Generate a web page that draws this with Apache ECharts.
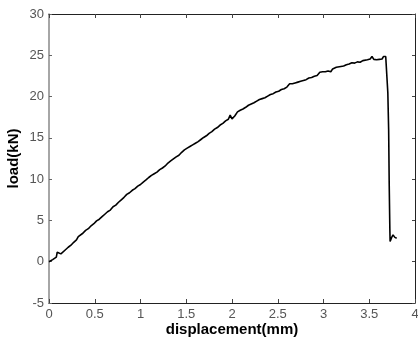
<!DOCTYPE html>
<html><head><meta charset="utf-8">
<script src="https://cdn.jsdelivr.net/npm/echarts@6/dist/echarts.min.js"></script>
<style>html,body{margin:0;padding:0;background:#fff}#c{width:418px;height:340px}</style>
</head><body><div id="c"></div>
<script>
var xTitle = 'displacement(mm)';
var yTitle = 'load(kN)';
var displacement = [0.00,0.02,0.04,0.06,0.08,0.09,0.11,0.13,0.15,0.18,0.21,0.24,0.27,0.30,0.32,0.34,0.37,0.40,0.43,0.46,0.49,0.52,0.55,0.58,0.61,0.64,0.67,0.70,0.73,0.76,0.79,0.82,0.85,0.88,0.91,0.94,0.97,1.00,1.03,1.06,1.09,1.12,1.15,1.18,1.21,1.24,1.27,1.30,1.33,1.36,1.39,1.42,1.45,1.48,1.51,1.54,1.57,1.60,1.63,1.66,1.69,1.72,1.75,1.78,1.81,1.84,1.87,1.90,1.93,1.96,1.98,2.00,2.03,2.06,2.09,2.12,2.15,2.18,2.21,2.24,2.27,2.30,2.33,2.36,2.39,2.42,2.45,2.48,2.51,2.54,2.57,2.60,2.63,2.66,2.69,2.72,2.75,2.78,2.81,2.84,2.87,2.90,2.93,2.96,2.99,3.02,3.05,3.08,3.10,3.12,3.14,3.16,3.19,3.22,3.25,3.28,3.31,3.34,3.37,3.40,3.43,3.45,3.48,3.51,3.53,3.55,3.58,3.61,3.64,3.655,3.68,3.70,3.703,3.712,3.718,3.725,3.728,3.745,3.76,3.78,3.80];
var load = [0.00,0.05,0.25,0.40,0.55,1.15,1.00,0.95,1.15,1.45,1.75,2.00,2.35,2.65,3.05,3.00,3.45,3.80,4.00,4.35,4.60,4.95,5.15,5.45,5.75,6.05,6.25,6.65,6.85,7.20,7.50,7.80,8.15,8.35,8.65,8.85,9.15,9.35,9.65,9.90,10.20,10.45,10.65,10.85,11.15,11.35,11.60,11.95,12.20,12.45,12.70,12.90,13.25,13.55,13.75,13.95,14.15,14.35,14.55,14.80,15.05,15.25,15.55,15.75,16.05,16.25,16.55,16.75,17.05,17.25,17.75,17.30,17.65,18.15,18.35,18.50,18.70,18.95,19.10,19.25,19.45,19.65,19.75,19.85,20.05,20.25,20.35,20.55,20.65,20.85,20.95,21.15,21.55,21.55,21.65,21.75,21.85,21.95,22.05,22.25,22.30,22.45,22.55,22.95,23.00,23.00,23.10,23.00,23.35,23.15,23.55,23.35,23.65,23.70,23.85,23.95,24.10,24.05,24.20,24.15,24.35,24.20,24.45,24.55,24.85,24.50,24.45,24.50,24.55,24.85,24.85,24.75,20.5,16.0,9.5,4.0,2.45,2.95,3.25,2.95,2.85];
var xTicks = [0, 4, 0.5];
var yTicks = [-5, 30, 5];

var pts = displacement.map(function (x, i) { return [x, load[i]]; });
var font = 'Liberation Sans, Arial, sans-serif';
var chart = echarts.init(document.getElementById('c'), null, {renderer: 'canvas'});
chart.setOption({
  animation: false,
  backgroundColor: '#fff',
  grid: {left: 49, right: 3, top: 14, bottom: 37, containLabel: false, outerBoundsMode: 'none'},
  xAxis: [{
    type: 'value', min: xTicks[0], max: xTicks[1], interval: xTicks[2], position: 'bottom',
    name: xTitle, nameLocation: 'middle', nameGap: 19, nameMoveOverlap: false,
    nameTextStyle: {fontFamily: font, fontSize: 15, fontWeight: 'bold', color: '#000'},
    axisLine: {show: true, onZero: false, lineStyle: {color: '#222', width: 1}},
    axisTick: {show: true, inside: true, length: 4, lineStyle: {color: '#444'}},
    axisLabel: {fontFamily: font, fontSize: 13, color: '#555', margin: 5},
    splitLine: {show: false}
  }, {
    type: 'value', min: xTicks[0], max: xTicks[1], interval: xTicks[2], position: 'top',
    axisLine: {show: true, onZero: false, lineStyle: {color: '#222', width: 1}},
    axisTick: {show: true, inside: true, length: 4, lineStyle: {color: '#444'}},
    axisLabel: {show: false}, splitLine: {show: false}
  }],
  yAxis: [{
    type: 'value', min: yTicks[0], max: yTicks[1], interval: yTicks[2], position: 'left',
    name: yTitle, nameLocation: 'middle', nameGap: 28, nameMoveOverlap: false,
    nameTextStyle: {fontFamily: font, fontSize: 15, fontWeight: 'bold', color: '#000'},
    axisLine: {show: true, onZero: false, lineStyle: {color: '#888', width: 1.5}},
    axisTick: {show: true, inside: true, length: 3, lineStyle: {color: '#666'}},
    axisLabel: {fontFamily: font, fontSize: 13, color: '#555', margin: 5},
    splitLine: {show: false}
  }, {
    type: 'value', min: yTicks[0], max: yTicks[1], interval: yTicks[2], position: 'right',
    axisLine: {show: true, onZero: false, lineStyle: {color: '#222', width: 1}},
    axisTick: {show: true, inside: true, length: 3, lineStyle: {color: '#444'}},
    axisLabel: {show: false}, splitLine: {show: false}
  }],
  series: [{
    type: 'line', xAxisIndex: 0, yAxisIndex: 0, data: pts, showSymbol: false, symbol: 'none',
    lineStyle: {color: '#000', width: 1.6}, itemStyle: {color: '#000'}
  }]
});
</script></body></html>
